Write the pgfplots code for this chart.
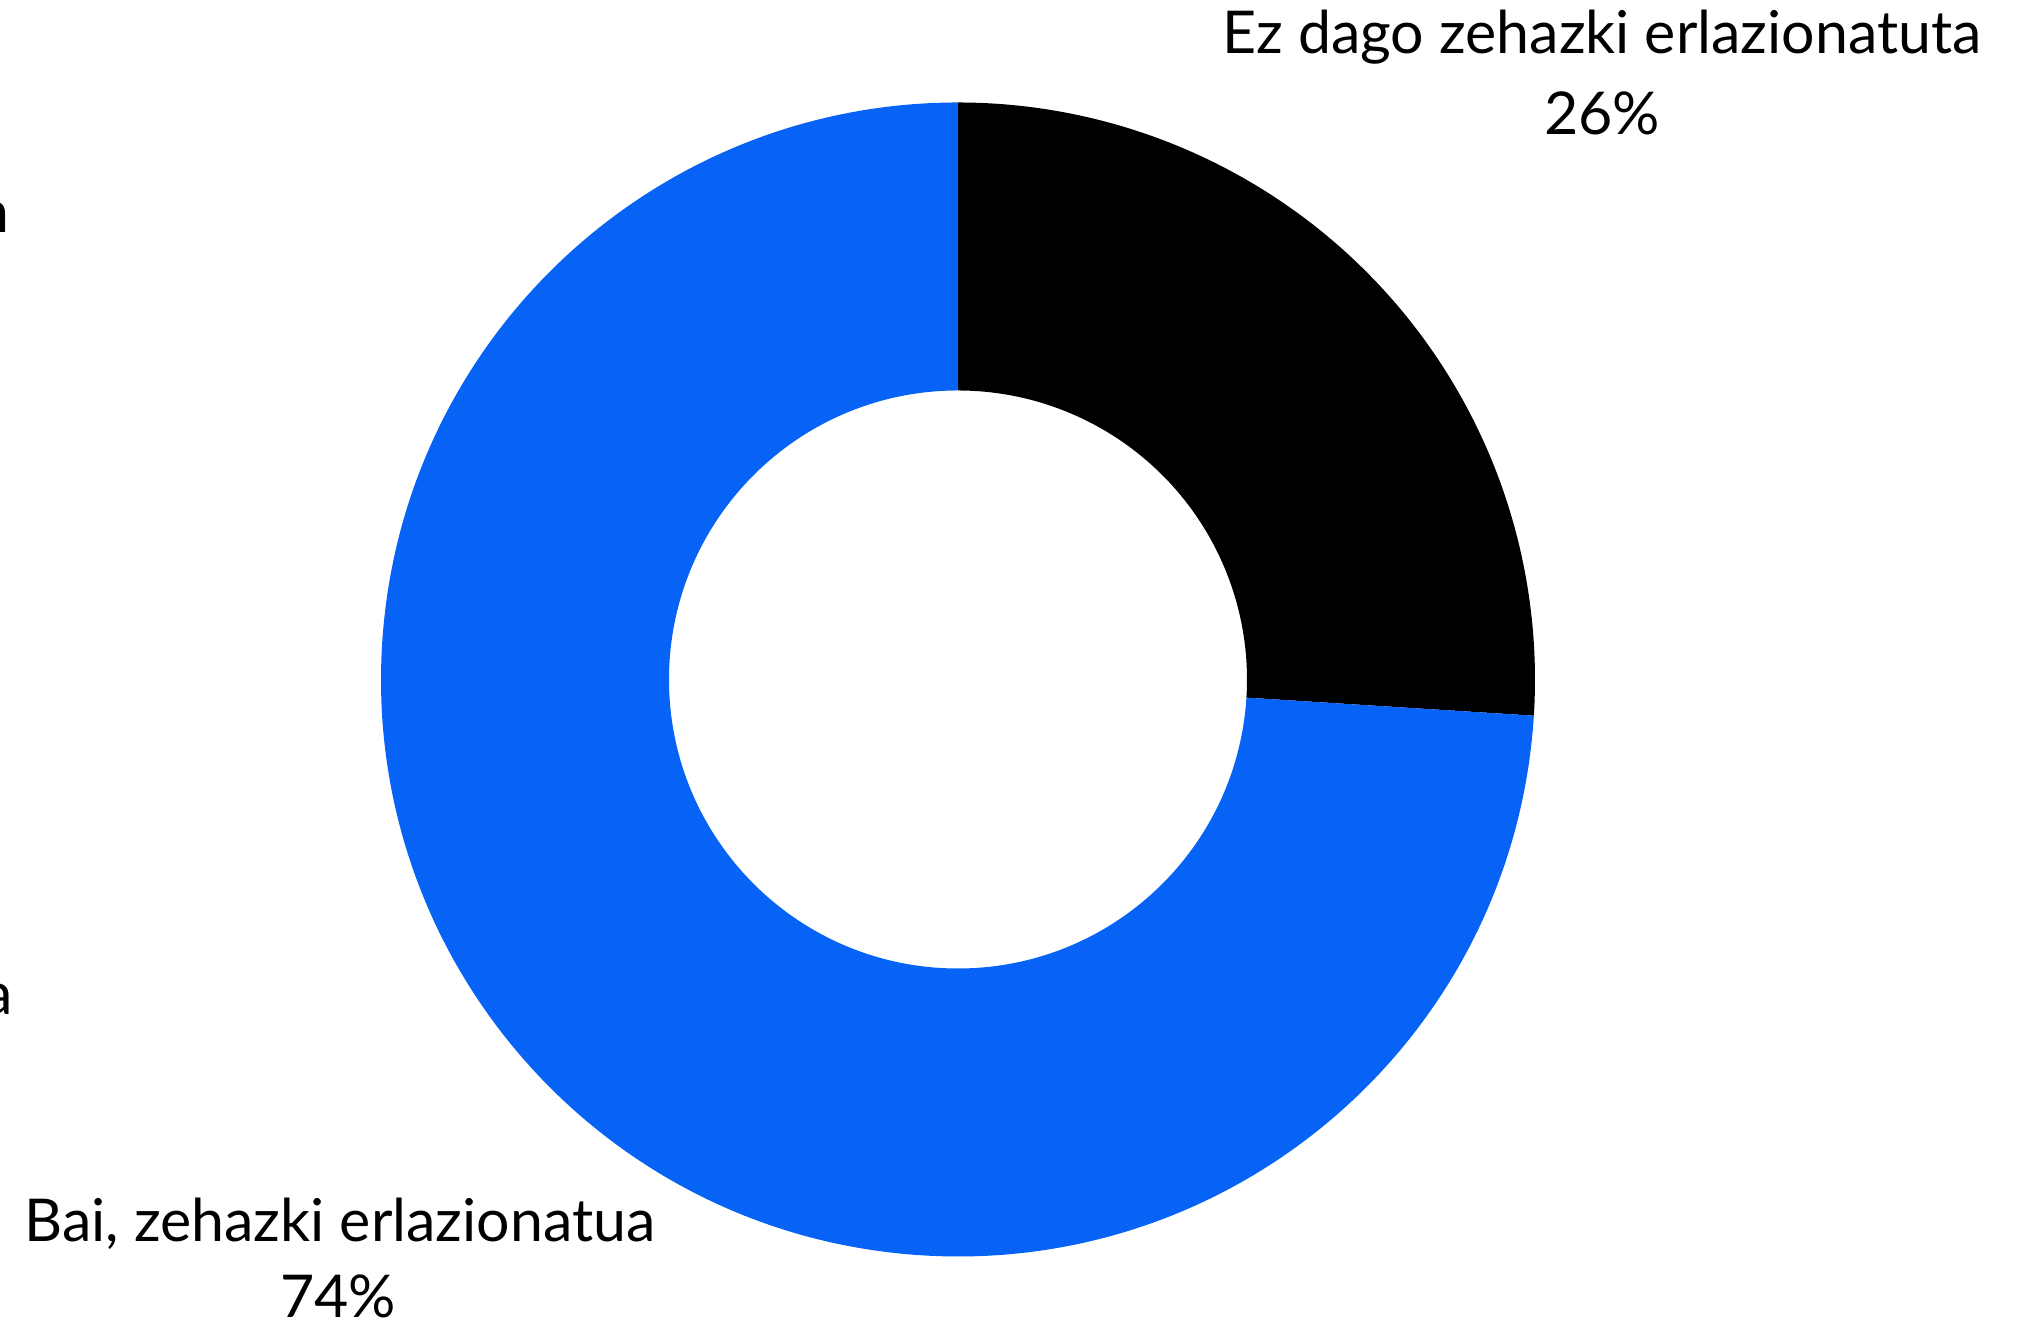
\documentclass[border=0pt]{standalone}
\usepackage{fontspec}
\setmainfont{Lato}
\usepackage{pgfplots}
\usepackage{pgfplotstable}
\pgfplotsset{compat=1.18}
\definecolor{donutblue}{RGB}{6,99,245}
\pgfplotstableread{
share
26
74
}\donutdata
\pgfplotstablegetelem{0}{share}\of\donutdata
\pgfmathsetmacro\va{\pgfplotsretval}
\pgfmathsetmacro\ea{90-3.6*\va}
\newcommand\lbl{\fontsize{16.8pt}{19pt}\selectfont}
\begin{document}%
\begin{tikzpicture}
\useasboundingbox (0,0) rectangle (20.21,13.20);
\clip (0,0) rectangle (20.21,13.20);
\begin{axis}[x=1cm,y=1cm,xmin=0,xmax=20.21,ymin=0,ymax=13.20,
  hide axis,clip=false,anchor=south west,at={(0,0)}]
\coordinate (c) at (axis cs:9.58,6.405);
\fill[black] ([shift={(90:5.77)}]c) arc[start angle=90,end angle=\ea,radius=5.77]
  -- ([shift={(\ea:2.89)}]c) arc[start angle=\ea,end angle=90,radius=2.89] -- cycle;
\fill[donutblue] ([shift={(\ea:5.77)}]c) arc[start angle=\ea,end angle=-270,radius=5.77]
  -- ([shift={(-270:2.89)}]c) arc[start angle=-270,end angle=\ea,radius=2.89] -- cycle;
\node[anchor=base,inner sep=0pt,font=\lbl] at (axis cs:16.02,12.66) {Ez dago zehazki erlazionatuta};
\node[anchor=base,inner sep=0pt,font=\lbl] at (axis cs:16.02,11.85) {26\%};
\node[anchor=base,inner sep=0pt,font=\lbl] at (axis cs:3.40,0.78) {Bai, zehazki erlazionatua};
\node[anchor=base,inner sep=0pt,font=\lbl] at (axis cs:3.38,0.02) {74\%};
\node[anchor=base east,inner sep=0pt,font=\lbl] at (axis cs:0.10,10.87) {n};
\node[anchor=base east,inner sep=0pt,font=\lbl] at (axis cs:0.14,3.05) {a};
\end{axis}
\end{tikzpicture}%
\end{document}
